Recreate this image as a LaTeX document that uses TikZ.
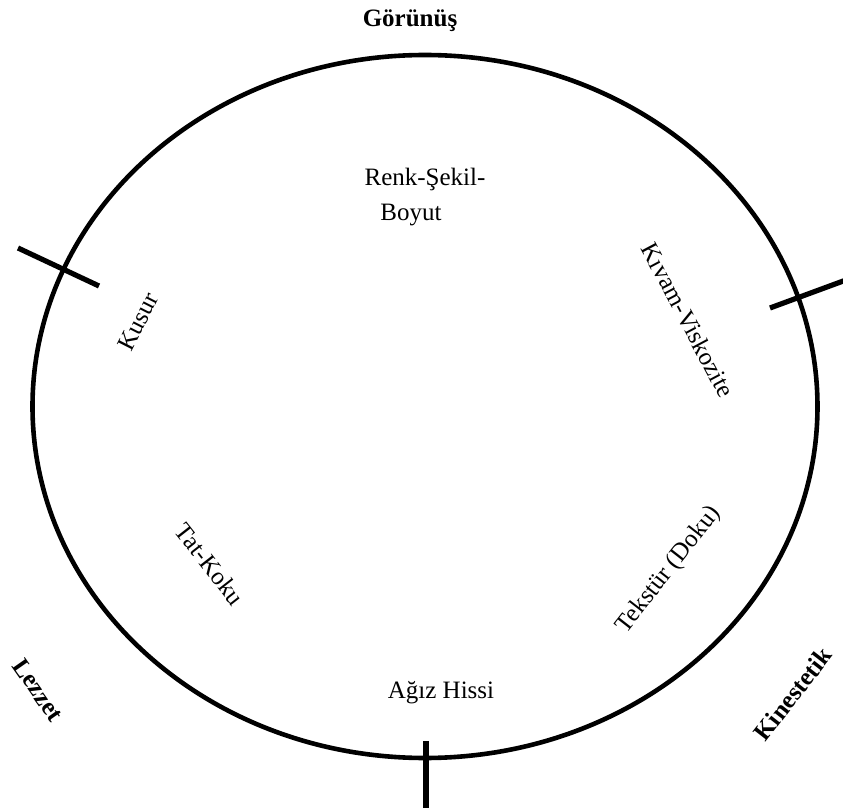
\documentclass[tikz,border=0pt]{standalone}
\usepackage{fontspec}
\setmainfont{Liberation Serif}
\usetikzlibrary{positioning}
\tikzset{
  facet/.style={inner sep=1pt,font=\fontsize{12.5}{15}\selectfont},
  sense/.style={inner sep=1pt,font=\fontsize{12.5}{15}\selectfont\bfseries},
  tick/.style={line width=2.6pt}
}

\begin{document}
\begin{tikzpicture}[x=0.5pt,y=-0.5pt]
        \useasboundingbox (0,0) rectangle (843,808);
        % rim
        \draw[line width=2.3pt] (425,406.5) ellipse [x radius=392.5, y radius=351.5];
        % tick marks
        \coordinate (tl_a) at (18,248);
        \coordinate (tl_b) at (99,286);
        \coordinate (tr_a) at (770,308);
        \coordinate (tr_b) at (846,280);
        \coordinate (tb_a) at (426,741);
        \coordinate (tb_b) at (426,812);
        \draw[tick] (tl_a) -- (tl_b);
        \draw[tick] (tr_a) -- (tr_b);
        \draw[tick] (tb_a) -- (tb_b);
        % senses
        \draw (410,21) node[sense] (gorunus) {Görünüş};
        \draw (38,690) node[sense,rotate=-55] (lezzet) {Lezzet};
        \draw (793,694) node[sense,rotate=52] (kinestetik) {Kinestetik};
        % facets
        \draw (425,179) node[facet] (renk) {Renk-Şekil-};
        \draw (411,215) node[facet] (boyut) {Boyut};
        \draw (138,322) node[facet,rotate=63] (kusur) {Kusur};
        \draw (688,320) node[facet,rotate=-62] (kivam) {Kıvam-Viskozite};
        \draw (210,564) node[facet,rotate=-52] (tat) {Tat-Koku};
        \draw (669,570) node[facet,rotate=52] (tekstur) {Tekstür (Doku)};
        \draw (441,693) node[facet] (agiz) {Ağız Hissi};
      \end{tikzpicture}
\end{document}
